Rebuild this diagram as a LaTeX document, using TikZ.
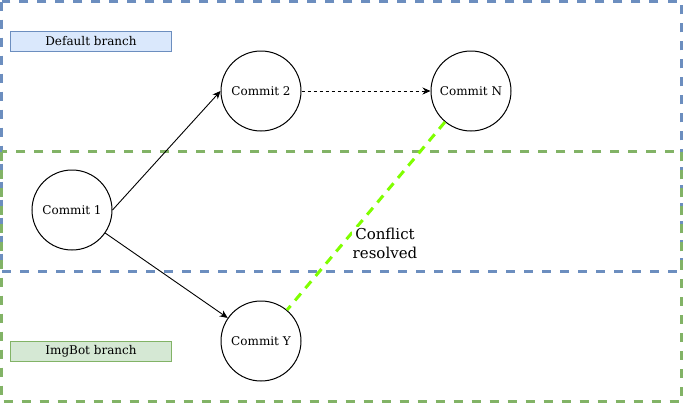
\documentclass[tikz,border=0pt]{standalone}
\usepackage{fontspec}
\setmainfont{DejaVu Serif}
\usetikzlibrary{arrows.meta}
\definecolor{bluestroke}{HTML}{6C8EBF}
\definecolor{bluefill}{HTML}{DAE8FC}
\definecolor{greenstroke}{HTML}{82B366}
\definecolor{greenfill}{HTML}{D5E8D4}
\definecolor{conflict}{HTML}{80FF00}
\tikzset{
  lane/.style={line width=3bp, dash pattern=on 9bp off 9bp},
  commit/.style={circle, draw=black, line width=1bp, minimum size=80bp, inner sep=0pt, font=\fontsize{12bp}{14bp}\selectfont},
  branchlabel/.style={draw, line width=1bp, minimum width=160bp, minimum height=20bp, inner sep=0pt, font=\fontsize{12bp}{14bp}\selectfont},
  flow/.style={draw=black, line width=0.9bp, -{Stealth[length=8bp,width=7bp]}},
}
\begin{document}
\begin{tikzpicture}[x=1bp,y=-1bp]
\useasboundingbox (0,0) rectangle (683,403);
\fill[white] (0,0) rectangle (683,403);
% lanes
\draw[lane, draw=bluestroke] (1.5,1.5) rectangle (681.5,271);
\draw[lane, draw=greenstroke] (1.5,151.5) rectangle (681.5,401.5);
% branch labels
\node[branchlabel, draw=bluestroke, fill=bluefill] (deflabel) at (91,41) {Default branch};
\node[branchlabel, draw=greenstroke, fill=greenfill] (imglabel) at (91,351) {ImgBot branch};
% commits
\node[commit] (c1) at (72,210) {Commit 1};
\node[commit] (c2) at (261,91) {Commit 2};
\node[commit] (cn) at (471,91) {Commit N};
\node[commit] (cy) at (261,341) {Commit Y};
% connectors
\draw[flow] (c1.east) -- (c2.west);
\draw[flow] (c1) -- (cy);
\draw[flow, dash pattern=on 3bp off 3bp] (c2.east) -- (cn.west);
\draw[conflict, line width=3bp, dash pattern=on 9bp off 7bp] (cn) -- (cy);
\node[fill=white, inner sep=1bp, align=center, font=\fontsize{15bp}{19bp}\selectfont] (clabel) at (385,243) {Conflict\\resolved};
\end{tikzpicture}
\end{document}
